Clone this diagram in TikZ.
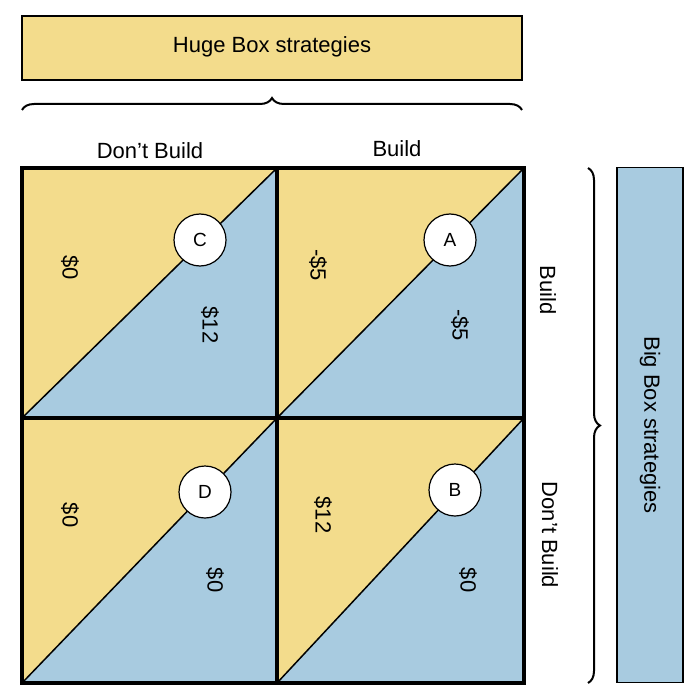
\documentclass[tikz,border=0pt]{standalone}
\usepackage{fontspec}
\setmainfont{Liberation Sans}
\usetikzlibrary{decorations.pathreplacing}
\definecolor{yel}{HTML}{F3DC8C}
\definecolor{blu}{HTML}{A8CBE0}
\tikzset{x=1pt,y=-1pt,
 lbl/.style={font=\fontsize{22}{26}\selectfont,inner sep=0pt},
 vlbl/.style={lbl,rotate=-90},
 circ/.style={circle,draw=black,line width=1.2pt,fill=white,minimum size=52pt,inner sep=0pt,font=\fontsize{19}{22}\selectfont},
 brc/.style={decorate,decoration={brace,amplitude=12pt},line width=2pt}}
\begin{document}
\begin{tikzpicture}
\useasboundingbox (0,0) rectangle (697,700);
\fill[white] (0,0) rectangle (697,700);
\node[draw=black,line width=1.5pt,fill=yel,minimum width=500pt,minimum height=64pt,inner sep=0pt] (hb) at (272,48) {};
\node[lbl] (hbt) at (272,47) {Huge Box strategies};
\coordinate (b1) at (22,110); \coordinate (b2) at (522,110);
\draw[brc] (b1) -- (b2);
\node[lbl] (db) at (150,151) {Don't Build};
\node[lbl] (bd) at (397,149) {Build};
\foreach \x/\y in {22/168,277/168,22/418,277/418}{
 \pgfmathsetmacro\xr{\x+(\x==22?255:247)}
 \pgfmathsetmacro\yb{\y+(\y==168?250:265)}
 \fill[yel] (\x,\y) rectangle (\xr,\yb);
 \fill[blu] (\x,\yb) -- (\xr,\y) -- (\xr,\yb) -- cycle;
 \draw[line width=1.5pt] (\x,\yb) -- (\xr,\y);
}
\draw[line width=4pt] (22,168) rectangle (524,683);
\draw[line width=4pt] (277,168) -- (277,683);
\draw[line width=4pt] (22,418) -- (524,418);
\node[circ] (C) at (200,240) {C};
\node[circ] (A) at (450,240) {A};
\node[circ] (D) at (205,492) {D};
\node[circ] (B) at (455,490) {B};
\node[vlbl] (p1) at (70,268) {\$0};
\node[vlbl] (p2) at (210,325) {\$12};
\node[vlbl] (p3) at (318,265) {-\$5};
\node[vlbl] (p4) at (460,325) {-\$5};
\node[vlbl] (p5) at (70,515) {\$0};
\node[vlbl] (p6) at (215,580) {\$0};
\node[vlbl] (p7) at (323,515) {\$12};
\node[vlbl] (p8) at (468,580) {\$0};
\node[vlbl] (rb) at (548,290) {Build};
\node[vlbl] (rdb) at (550,535) {Don't Build};
\coordinate (r1) at (588,168); \coordinate (r2) at (588,683);
\draw[brc] (r1) -- (r2);
\node[draw=black,line width=1.5pt,fill=blu,minimum width=66pt,minimum height=515pt,inner sep=0pt] (bb) at (650,425) {};
\node[vlbl] (bbt) at (650,425) {Big Box strategies};
\end{tikzpicture}
\end{document}
